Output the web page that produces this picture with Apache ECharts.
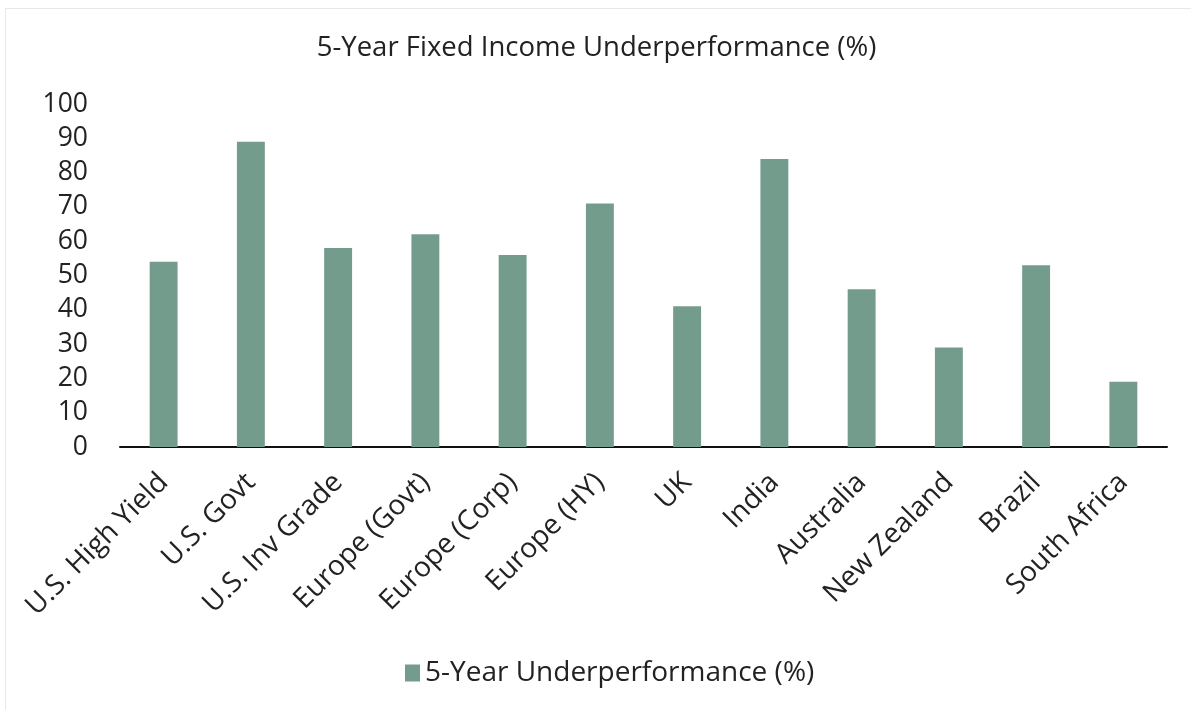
<!DOCTYPE html>
<html>
<head>
<meta charset="utf-8">
<script src="https://cdn.jsdelivr.net/npm/echarts@6/dist/echarts.min.js"></script>
<style>
  html, body { margin: 0; padding: 0; background: #ffffff; }
  #frame { position: absolute; left: 5px; top: 8px; width: 1186px; height: 702px; border-left: 1px solid #e8e8e8; border-top: 1px solid #e8e8e8; box-sizing: border-box; }
  #chart { position: absolute; left: 0; top: 0; width: 1193px; height: 711px; }
</style>
</head>
<body>
<div id="frame"></div>
<div id="chart"></div>
<script>
const title = '5-Year Fixed Income Underperformance (%)';
const seriesName = '5-Year Underperformance (%)';
const categories = ['U.S. High Yield', 'U.S. Govt', 'U.S. Inv Grade', 'Europe (Govt)', 'Europe (Corp)', 'Europe (HY)', 'UK', 'India', 'Australia', 'New Zealand', 'Brazil', 'South Africa'];
const values = [54, 89, 58, 62, 56, 71, 41, 84, 46, 29, 53, 19];
const yTicks = [0, 10, 20, 30, 40, 50, 60, 70, 80, 90, 100];

const FONT = '"Open Sans", Lato, sans-serif';
const chart = echarts.init(document.getElementById('chart'), null, { renderer: 'canvas' });
chart.setOption({
  animation: false,
  backgroundColor: 'transparent',
  title: {
    text: title,
    left: 'center',
    top: 29,
    textStyle: { fontFamily: FONT, fontSize: 27.5, fontWeight: 'normal', color: '#222' }
  },
  legend: {
    data: [seriesName],
    bottom: 19,
    left: 400,
    icon: 'rect',
    itemWidth: 15,
    itemHeight: 17,
    itemGap: 8,
    textStyle: { fontFamily: FONT, fontSize: 28, color: '#222' }
  },
  grid: { left: 120, right: 26, top: 104, bottom: 264, containLabel: false },
  xAxis: {
    type: 'category',
    data: categories,
    axisLine: { show: true, lineStyle: { color: '#111', width: 2 } },
    axisTick: { show: false },
    axisLabel: { rotate: 45, interval: 0, margin: 31, fontFamily: FONT, fontSize: 28, color: '#222' }
  },
  yAxis: {
    type: 'value',
    min: yTicks[0],
    max: yTicks[yTicks.length - 1],
    interval: 10,
    axisLine: { show: false },
    axisTick: { show: false },
    splitLine: { show: false },
    axisLabel: { margin: 32, fontFamily: FONT, fontSize: 26.5, color: '#222' }
  },
  series: [{
    name: seriesName,
    type: 'bar',
    data: values,
    barWidth: '32%',
    itemStyle: { color: '#749c8c' }
  }]
});
</script>
</body>
</html>
